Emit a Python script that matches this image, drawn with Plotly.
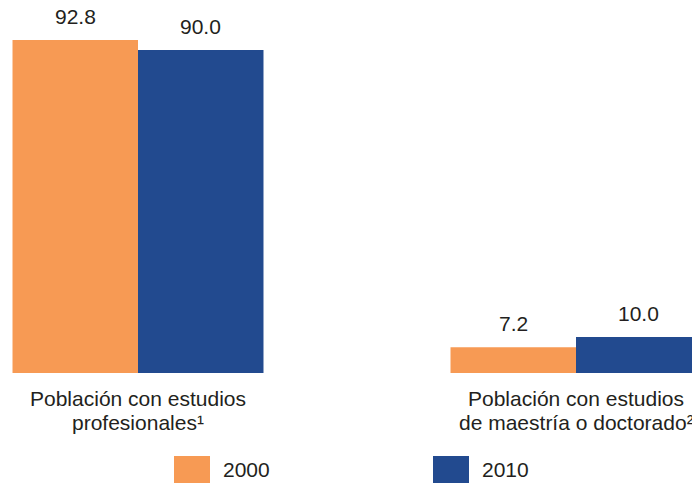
import plotly.graph_objects as go

# Data
category_line1 = ["Población con estudios", "Población con estudios"]
category_line2 = ["profesionales¹", "de maestría o doctorado²"]
series_names = ["2000", "2010"]
values_2000 = [92.8, 7.2]
values_2010 = [90.0, 10.0]
colors = ["#F79A54", "#224A8F"]

FONT = "Liberation Sans, Arial, sans-serif"
TXT = "#231F20"

W, H = 692, 475          # page has an 8px body margin
PLOT_H = 365             # plot area height in px (bottom margin 110)
CAT0_PX, CAT_STEP = 130, 438
PX_PER_UNIT = 3.588


def py(fig_y):
    """paper y from pixel y (from top of figure)"""
    return 1 - fig_y / PLOT_H


def px(fig_x):
    return fig_x / W


fig = go.Figure()
for name, vals, col in zip(series_names, [values_2000, values_2010], colors):
    fig.add_trace(go.Bar(x=[0, 1], y=vals, name=name,
                         marker=dict(color=col, line=dict(width=0)),
                         showlegend=False))

# value labels above bars
offsets = [-62.75, 62.75]
for vals, off in zip([values_2000, values_2010], offsets):
    for i, v in enumerate(vals):
        fig.add_annotation(x=i, y=v, text=f"{v:.1f}", showarrow=False, xshift=off,
                           yanchor="bottom", yshift=10,
                           font=dict(family=FONT, size=21, color=TXT))

# category labels (two lines each)
for i, (l1, l2) in enumerate(zip(category_line1, category_line2)):
    for txt, ypx in ((l1, 390), (l2, 414)):
        fig.add_annotation(x=i, xref="x", yref="paper", y=py(ypx), text=txt,
                           showarrow=False, xanchor="center", yanchor="middle",
                           font=dict(family=FONT, size=21, color=TXT))

# manual legend
leg_x = [166, 425]
for name, col, lx in zip(series_names, colors, leg_x):
    fig.add_shape(type="rect", xref="paper", yref="paper",
                  x0=px(lx), x1=px(lx + 36), y0=py(475), y1=py(448),
                  fillcolor=col, line=dict(width=0))
    fig.add_annotation(xref="paper", yref="paper", x=px(lx + 47), y=py(461),
                       text=name, showarrow=False, xanchor="left", yanchor="middle",
                       font=dict(family=FONT, size=21, color=TXT))

fig.update_layout(
    width=W, height=H,
    margin=dict(l=0, r=0, t=0, b=H - PLOT_H),
    paper_bgcolor="white", plot_bgcolor="white",
    barmode="group", bargap=0.427, bargroupgap=0,
    font=dict(family=FONT, size=21, color=TXT),
    xaxis=dict(range=[-CAT0_PX / CAT_STEP, (W - CAT0_PX) / CAT_STEP], tickvals=[0, 1],
               showticklabels=False, showgrid=False, zeroline=False, showline=False,
               ticks=""),
    yaxis=dict(range=[0, PLOT_H / PX_PER_UNIT], visible=False, showgrid=False),
)

fig.write_html("out.html")
